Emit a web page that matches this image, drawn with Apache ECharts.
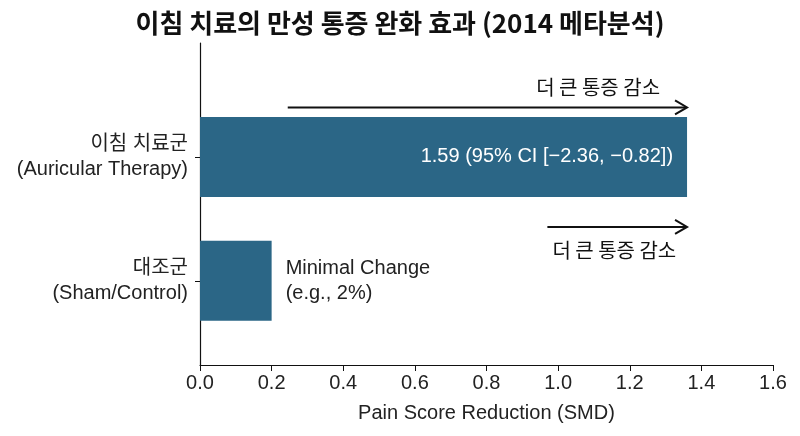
<!DOCTYPE html>
<html>
<head>
<meta charset="utf-8">
<script src="https://cdn.jsdelivr.net/npm/echarts@6/dist/echarts.min.js"></script>
<style>
  html, body { margin: 0; padding: 0; background: #fff; }
  #chart { width: 800px; height: 436px; }
</style>
</head>
<body>
<div id="chart"></div>
<script>
// 데이터
var categories = ['대조군\n(Sham/Control)', '이침 치료군\n(Auricular Therapy)'];
var categoryPos = [0, 1];
var smdValues = [0.2, 1.36];
var barLabels = ['Minimal Change\n(e.g., 2%)', '1.59 (95% CI [\u22122.36, \u22120.82])'];
var xTicks = [0, 0.2, 0.4, 0.6, 0.8, 1.0, 1.2, 1.4, 1.6];
// 화살표 (시작 x, 끝 x, y)
var arrowStart = [0.245, 0.97];
var arrowEnd = [1.36, 1.36];
var arrowY = [1.4, 0.435];
var arrowText = ['더 큰 통증 감소', '더 큰 통증 감소'];

var FONT = '"Liberation Sans", "Noto Sans CJK KR", sans-serif';
var BAR_COLOR = '#2b6686';
var BAR_PX = 80;

var barData = smdValues.map(function (v, i) { return [v, categoryPos[i], i]; });
var arrowData = arrowStart.map(function (s, i) { return [s, arrowEnd[i], arrowY[i], i]; });

var myChart = echarts.init(document.getElementById('chart'));
var option = {
  backgroundColor: '#fff',
  animation: false,
  title: {
    text: '이침 치료의 만성 통증 완화 효과 (2014 메타분석)',
    left: 'center',
    top: 5,
    textStyle: { fontFamily: '"Noto Sans CJK KR", sans-serif', fontWeight: 'bold', fontSize: 26, color: '#111' }
  },
  grid: { left: 200, right: 27, top: 43, bottom: 71 },
  xAxis: {
    type: 'value',
    min: 0, max: 1.6, interval: 0.2,
    name: 'Pain Score Reduction (SMD)',
    nameLocation: 'middle',
    nameGap: 38,
    nameTextStyle: { fontFamily: FONT, fontSize: 20, color: '#222' },
    axisLine: { show: true, onZero: false, lineStyle: { color: '#111', width: 1.2 } },
    axisTick: { show: true, length: 6, lineStyle: { color: '#111' } },
    axisLabel: {
      fontFamily: FONT, fontSize: 20, color: '#222', margin: 8,
      formatter: function (v) { return v.toFixed(1); }
    },
    splitLine: { show: false }
  },
  yAxis: {
    type: 'value',
    min: -0.68, max: 1.92,
    axisLine: { show: true, onZero: false, lineStyle: { color: '#111', width: 1.2 } },
    axisTick: { show: true, length: 5, customValues: categoryPos, lineStyle: { color: '#111' } },
    axisLabel: {
      customValues: categoryPos,
      fontFamily: FONT, fontSize: 20, color: '#222', margin: 12, lineHeight: 25,
      align: 'right',
      formatter: function (v) { return categories[categoryPos.indexOf(Math.round(v))] || ''; }
    },
    splitLine: { show: false }
  },
  series: [
    {
      type: 'custom',
      data: barData,
      encode: { x: 0, y: 1 },
      renderItem: function (params, api) {
        var x = api.value(0), y = api.value(1), i = api.value(2);
        var p0 = api.coord([0, y]);
        var p1 = api.coord([x, y]);
        var inside = i === 1;
        return {
          type: 'rect',
          shape: { x: p0[0], y: p0[1] - BAR_PX / 2, width: p1[0] - p0[0], height: BAR_PX },
          style: { fill: BAR_COLOR },
          textContent: {
            style: {
              text: barLabels[i],
              fill: inside ? '#fff' : '#222',
              fontFamily: FONT,
              fontSize: 20,
              lineHeight: 25,
              align: inside ? 'right' : 'left'
            }
          },
          textConfig: { position: inside ? 'insideRight' : 'right', distance: 14 }
        };
      }
    },
    {
      type: 'custom',
      data: arrowData,
      encode: { x: [0, 1], y: 2 },
      renderItem: function (params, api) {
        var i = api.value(3);
        var a = api.coord([api.value(0), api.value(2)]);
        var b = api.coord([api.value(1), api.value(2)]);
        var lineStyle = { stroke: '#111', lineWidth: 2, fill: null };
        var above = i === 0;
        return {
          type: 'group',
          children: [
            { type: 'line', shape: { x1: a[0], y1: a[1], x2: b[0] - 1, y2: b[1] }, style: lineStyle },
            { type: 'polyline', shape: { points: [[b[0] - 12, b[1] - 7], [b[0], b[1]], [b[0] - 12, b[1] + 7]] }, style: lineStyle },
            {
              type: 'text',
              x: above ? b[0] - 27 : a[0] + 5,
              y: above ? a[1] - 20 : a[1] + 23,
              style: {
                text: arrowText[i],
                fontFamily: '"Noto Sans CJK KR", sans-serif',
                fontSize: 20,
                fill: '#111',
                align: above ? 'right' : 'left',
                verticalAlign: 'middle'
              }
            }
          ]
        };
      }
    }
  ]
};
myChart.setOption(option, true);
</script>
</body>
</html>
